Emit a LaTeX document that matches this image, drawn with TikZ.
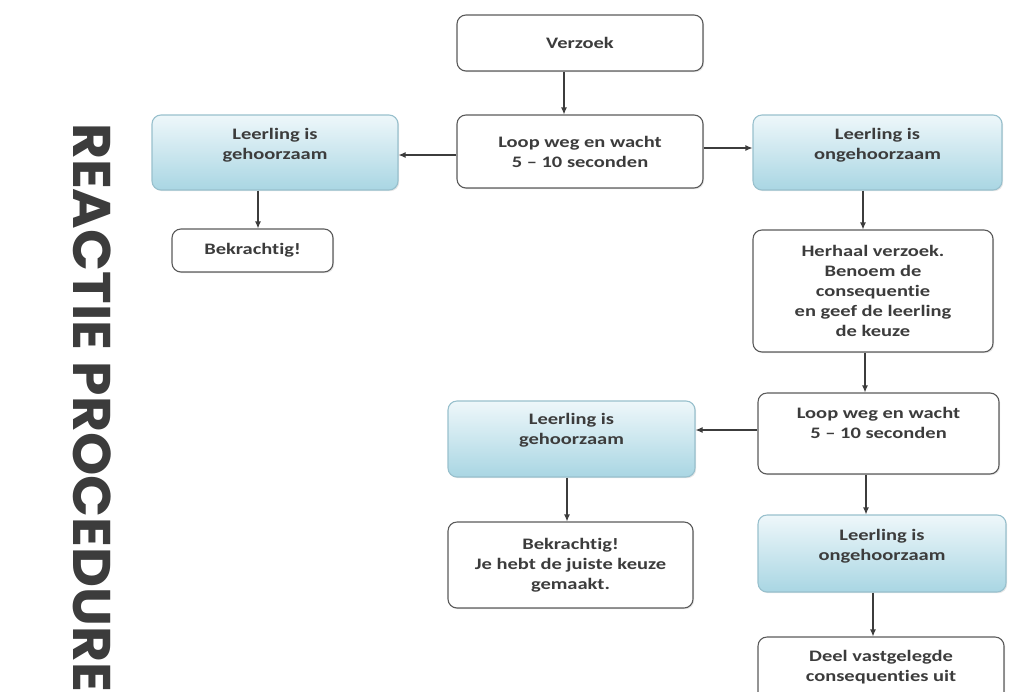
\documentclass[tikz,border=0pt]{standalone}
\usepackage{fontspec}
\setmainfont{Carlito}[FakeStretch=1.28, Ligatures={TeX,NoCommon}]
\newfontfamily\titlefont{Poppins}[FakeStretch=1.04]
\usetikzlibrary{shadows,arrows.meta}

\definecolor{ink}{HTML}{3C3C3C}
\definecolor{edgegray}{HTML}{5A5A5A}
\definecolor{paleblue}{HTML}{EEF7FA}
\definecolor{deepblue}{HTML}{A9D6E3}
\definecolor{blueedge}{HTML}{98C0CD}

% an empty last line pushes the text up in its box
\newcommand{\liftby}[1]{\\[#1]\mbox{}}

\tikzset{
  box/.style={shape=rectangle, rounded corners=9pt, draw=edgegray, line width=1.1pt,
    fill=white, align=center, text=ink, font=\bfseries\fontsize{16}{20}\selectfont,
    drop shadow={opacity=0.2, shadow xshift=1.2pt, shadow yshift=-1.2pt}},
  bluebox/.style={box, draw=blueedge, top color=paleblue, bottom color=deepblue},
  link/.style={-{Latex[length=7pt,width=6pt]}, color=ink, line width=1.1pt},
}

\begin{document}
\begin{tikzpicture}[x=1pt, y=-1pt]
	\useasboundingbox (0,0) rectangle (1035,691);

	\node[text=ink, font=\titlefont\bfseries\fontsize{53}{60}\selectfont, rotate=-90, anchor=base west, inner sep=0pt] (title) at (73,123) {REACTIE PROCEDURE};

	\node[box, minimum width=246, minimum height=56] (0) at (580,43) {Verzoek};
	\node[box, minimum width=246, minimum height=73] (1) at (580,151.5) {Loop weg en wacht\\5 – 10 seconden};
	\node[bluebox, minimum width=246, minimum height=75] (2) at (275,152.5) {Leerling is\\gehoorzaam\liftby{-2pt}};
	\node[box, minimum width=161, minimum height=43] (3) at (252.5,250.5) {Bekrachtig!};
	\node[bluebox, minimum width=249, minimum height=75] (4) at (877.5,152.5) {Leerling is\\ongehoorzaam\liftby{-2pt}};
	\node[box, minimum width=240, minimum height=122] (5) at (873,291) {Herhaal verzoek.\\Benoem de\\consequentie\\en geef de leerling\\de keuze};
	\node[box, minimum width=241, minimum height=81] (6) at (878.5,433.5) {Loop weg en wacht\\5 – 10 seconden\liftby{2pt}};
	\node[bluebox, minimum width=247, minimum height=76] (7) at (571.5,439) {Leerling is\\gehoorzaam\liftby{0pt}};
	\node[box, minimum width=245, minimum height=86] (8) at (570.5,565) {Bekrachtig!\\Je hebt de juiste keuze\\gemaakt.};
	\node[bluebox, minimum width=248, minimum height=77] (9) at (882,553.5) {Leerling is\\ongehoorzaam\liftby{-2pt}};
	\node[box, minimum width=246, minimum height=76] (10) at (881,675) {Deel vastgelegde\\consequenties uit\liftby{-2pt}};

	\path [link] ([xshift=-16pt]0.south) edge ([xshift=-16pt]1.north);
	\path [link] ([yshift=-3.5pt]1.west) edge ([yshift=-3.5pt]1.west -| 2.east);
	\path [link] ([yshift=3.5pt]1.east) edge ([yshift=3.5pt]1.east -| 4.west);
	\path [link] ([xshift=-17pt]2.south) edge ([xshift=-17pt]2.south |- 3.north);
	\path [link] ([xshift=-14.5pt]4.south) edge ([xshift=-14.5pt]4.south |- 5.north);
	\path [link] ([xshift=-8pt]5.south) edge ([xshift=-8pt]5.south |- 6.north);
	\path [link] ([yshift=3.5pt]6.west) edge ([yshift=3.5pt]6.west -| 7.east);
	\path [link] ([xshift=-4.5pt]7.south) edge ([xshift=-4.5pt]7.south |- 8.north);
	\path [link] ([xshift=-12.5pt]6.south) edge ([xshift=-12.5pt]6.south |- 9.north);
	\path [link] ([xshift=-9pt]9.south) edge ([xshift=-9pt]9.south |- 10.north);
\end{tikzpicture}
\end{document}
